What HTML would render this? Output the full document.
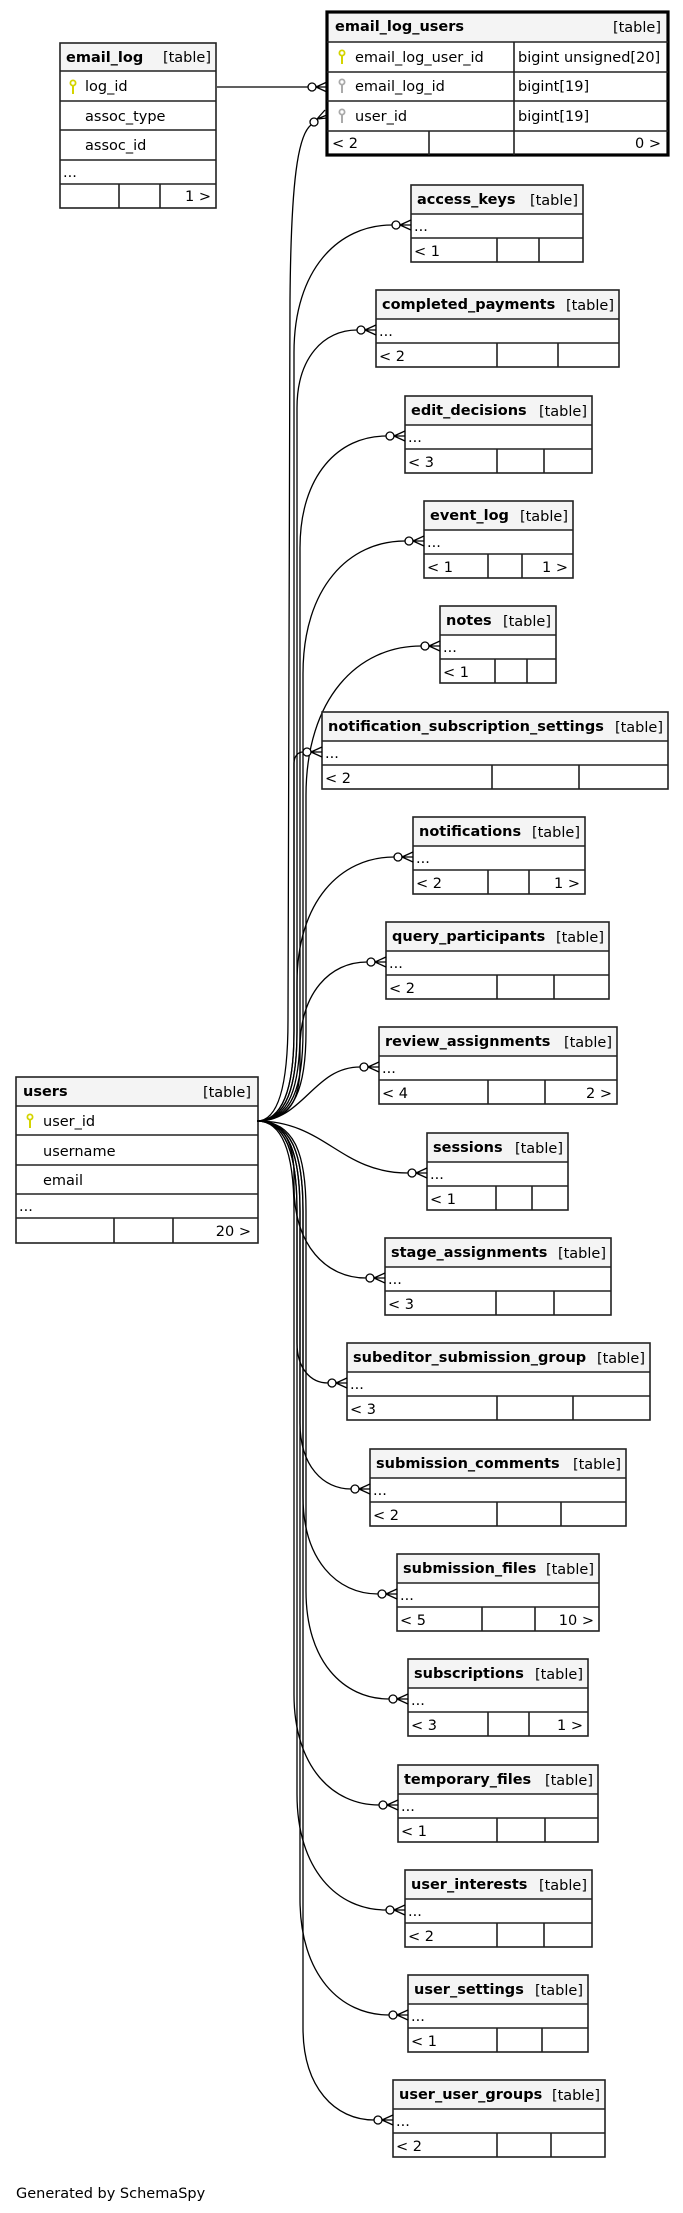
<!DOCTYPE html>
<html><head><meta charset="utf-8"><style>
html,body{margin:0;padding:0;background:#fff}
svg{display:block}
text{font-family:"DejaVu Sans","Liberation Sans",sans-serif;font-size:14.5px;fill:#000}
.b{font-weight:bold}
.hd{fill:#f4f4f4}
.bx{fill:none;stroke:#222;stroke-width:1.6}
.ln{stroke:#222;stroke-width:1.6}
.e{fill:none;stroke:#000;stroke-width:1.3}
.c{fill:#fff;stroke:#000;stroke-width:1.3}
</style></head><body>
<svg width="683" height="2213" viewBox="0 0 683 2213" xmlns="http://www.w3.org/2000/svg">
<defs>
<g id="ky"><circle cx="0" cy="-4" r="2.6" fill="none" stroke-width="1.8"/><line x1="0" y1="-1.5" x2="0" y2="7" stroke-width="2"/></g>
</defs>

<rect x="60" y="43" width="156" height="28" class="hd"/>
<rect x="60" y="43" width="156" height="165" class="bx"/>
<line x1="60" y1="71" x2="216" y2="71" class="ln"/>
<line x1="60" y1="101" x2="216" y2="101" class="ln"/>
<line x1="60" y1="130" x2="216" y2="130" class="ln"/>
<line x1="60" y1="160" x2="216" y2="160" class="ln"/>
<line x1="60" y1="184" x2="216" y2="184" class="ln"/>
<line x1="119" y1="184" x2="119" y2="208" class="ln"/>
<line x1="160" y1="184" x2="160" y2="208" class="ln"/>
<text x="66" y="62" class="b">email_log</text>
<text x="211" y="62" text-anchor="end">[table]</text>
<use href="#ky" x="73" y="87" stroke="#d4d400"/>
<text x="85" y="91">log_id</text>
<text x="85" y="121">assoc_type</text>
<text x="85" y="150">assoc_id</text>
<text x="63" y="177">...</text>
<text x="211" y="201" text-anchor="end">1 &gt;</text>

<rect x="327" y="12" width="341" height="30" class="hd"/>
<rect x="327" y="12" width="341" height="143" fill="none" stroke="#000" stroke-width="3.2"/>
<line x1="327" y1="42" x2="668" y2="42" class="ln"/>
<line x1="327" y1="72" x2="668" y2="72" class="ln"/>
<line x1="327" y1="101" x2="668" y2="101" class="ln"/>
<line x1="327" y1="131" x2="668" y2="131" class="ln"/>
<line x1="514" y1="42" x2="514" y2="155" class="ln"/>
<line x1="429" y1="131" x2="429" y2="155" class="ln"/>
<text x="335" y="31" class="b">email_log_users</text>
<text x="661" y="32" text-anchor="end">[table]</text>
<use href="#ky" x="342" y="57" stroke="#d4d400"/>
<use href="#ky" x="342" y="86" stroke="#aaa"/>
<use href="#ky" x="342" y="116" stroke="#aaa"/>
<text x="355" y="62">email_log_user_id</text>
<text x="355" y="91">email_log_id</text>
<text x="355" y="121">user_id</text>
<text x="518" y="62">bigint unsigned[20]</text>
<text x="518" y="91">bigint[19]</text>
<text x="518" y="121">bigint[19]</text>
<text x="332" y="148">&lt; 2</text>
<text x="661" y="148" text-anchor="end">0 &gt;</text>

<line x1="217" y1="87" x2="308" y2="87" class="e"/>
<circle cx="312" cy="87" r="4" class="c"/>
<path d="M316 87 L327 87 M316 87 L327 82 M316 87 L327 92" class="e"/>

<path d="M257 1121 C 280 1121, 288 1080, 288 1020 L 290 300 C 291 180, 298 135, 311 125" class="e"/>
<circle cx="314" cy="122" r="4" class="c"/>
<path d="M317 119 L327 115 M317 119 L325 110 M317 119 L327 118" class="e"/>

<rect x="16" y="1077" width="242" height="29" class="hd"/>
<rect x="16" y="1077" width="242" height="166" class="bx"/>
<line x1="16" y1="1106" x2="258" y2="1106" class="ln"/>
<line x1="16" y1="1135" x2="258" y2="1135" class="ln"/>
<line x1="16" y1="1165" x2="258" y2="1165" class="ln"/>
<line x1="16" y1="1194" x2="258" y2="1194" class="ln"/>
<line x1="16" y1="1218" x2="258" y2="1218" class="ln"/>
<line x1="114" y1="1218" x2="114" y2="1243" class="ln"/>
<line x1="173" y1="1218" x2="173" y2="1243" class="ln"/>
<text x="23" y="1096" class="b">users</text>
<text x="251" y="1097" text-anchor="end">[table]</text>
<use href="#ky" x="30" y="1121" stroke="#d4d400"/>
<text x="43" y="1126">user_id</text>
<text x="43" y="1156">username</text>
<text x="43" y="1185">email</text>
<text x="19" y="1211">...</text>
<text x="251" y="1236" text-anchor="end">20 &gt;</text>

<g id="tables"></g>
<text x="16" y="2198">Generated by SchemaSpy</text>
</svg>
<script>
var T=[
["access_keys",411,583,185,497,539,"< 1",""],
["completed_payments",376,619,290.3,497,558,"< 2",""],
["edit_decisions",405,592,395.6,497,544,"< 3",""],
["event_log",424,573,500.9,488,522,"< 1","1 >"],
["notes",440,556,606.2,495,527,"< 1",""],
["notification_subscription_settings",322,668,711.5,492,579,"< 2",""],
["notifications",413,585,816.8,488,529,"< 2","1 >"],
["query_participants",386,609,922.1,497,554,"< 2",""],
["review_assignments",379,617,1027.4,488,545,"< 4","2 >"],
["sessions",427,568,1132.7,496,532,"< 1",""],
["stage_assignments",385,611,1238,496,554,"< 3",""],
["subeditor_submission_group",347,650,1343.3,497,573,"< 3",""],
["submission_comments",370,626,1448.6,497,561,"< 2",""],
["submission_files",397,599,1553.9,482,535,"< 5","10 >"],
["subscriptions",408,588,1659.2,488,529,"< 3","1 >"],
["temporary_files",398,598,1764.5,497,545,"< 1",""],
["user_interests",405,592,1869.8,497,544,"< 2",""],
["user_settings",408,588,1975.1,497,542,"< 1",""],
["user_user_groups",393,605,2080.4,497,551,"< 2",""]];
function esc(s){return s.replace(/&/g,"&amp;").replace(/</g,"&lt;").replace(/>/g,"&gt;");}
var h="";
T.forEach(function(t,i){
var n=t[0],a=t[1],b=t[2],y=Math.round(t[3]),w=b-a,cy=y+40;
h+='<rect x="'+a+'" y="'+y+'" width="'+w+'" height="29" class="hd"/>';
h+='<rect x="'+a+'" y="'+y+'" width="'+w+'" height="77" class="bx"/>';
h+='<line x1="'+a+'" y1="'+(y+29)+'" x2="'+b+'" y2="'+(y+29)+'" class="ln"/>';
h+='<line x1="'+a+'" y1="'+(y+53)+'" x2="'+b+'" y2="'+(y+53)+'" class="ln"/>';
h+='<line x1="'+t[4]+'" y1="'+(y+53)+'" x2="'+t[4]+'" y2="'+(y+77)+'" class="ln"/>';
h+='<line x1="'+t[5]+'" y1="'+(y+53)+'" x2="'+t[5]+'" y2="'+(y+77)+'" class="ln"/>';
h+='<text x="'+(b-5)+'" y="'+(y+20)+'" text-anchor="end">[table]</text>';
h+='<text x="'+(a+6)+'" y="'+(y+19)+'" class="b">'+n+'</text>';
h+='<text x="'+(a+3)+'" y="'+(y+46)+'">...</text>';
h+='<text x="'+(a+3)+'" y="'+(y+71)+'">'+esc(t[6])+'</text>';
if(t[7])h+='<text x="'+(b-5)+'" y="'+(y+71)+'" text-anchor="end">'+esc(t[7])+'</text>';
var ex=a-19, dy=cy-1121, s=dy<0?-1:1, ad=Math.abs(dy);
var vx=294+(i%5)*3;
var d;
if(ad<130){
  d='M257 1121 C '+(257+(ex-257)*0.45)+' 1121, '+(257+(ex-257)*0.55)+' '+cy+', '+ex+' '+cy;
}else{
  var R1=Math.min(90, ad*0.35), R2=Math.min((ex-vx)*1.3, ad-R1-10);
  var y1=1121+s*R1, y2=cy-s*R2;
  d='M257 1121 C '+(vx-10)+' 1121, '+vx+' '+(1121+s*R1*0.4)+', '+vx+' '+y1+
    ' L '+vx+' '+y2+' C '+vx+' '+(cy-s*R2*0.35)+', '+(ex-(ex-vx)*0.55)+' '+cy+', '+ex+' '+cy;
}
h+='<path d="'+d+'" class="e"/>';
h+='<circle cx="'+(a-15)+'" cy="'+cy+'" r="4" class="c"/>';
h+='<path d="M'+(a-11)+' '+cy+' L'+a+' '+cy+' M'+(a-11)+' '+cy+' L'+a+' '+(cy-5)+' M'+(a-11)+' '+cy+' L'+a+' '+(cy+5)+'" class="e"/>';
});
document.getElementById("tables").innerHTML=h;
</script>
</body></html>
